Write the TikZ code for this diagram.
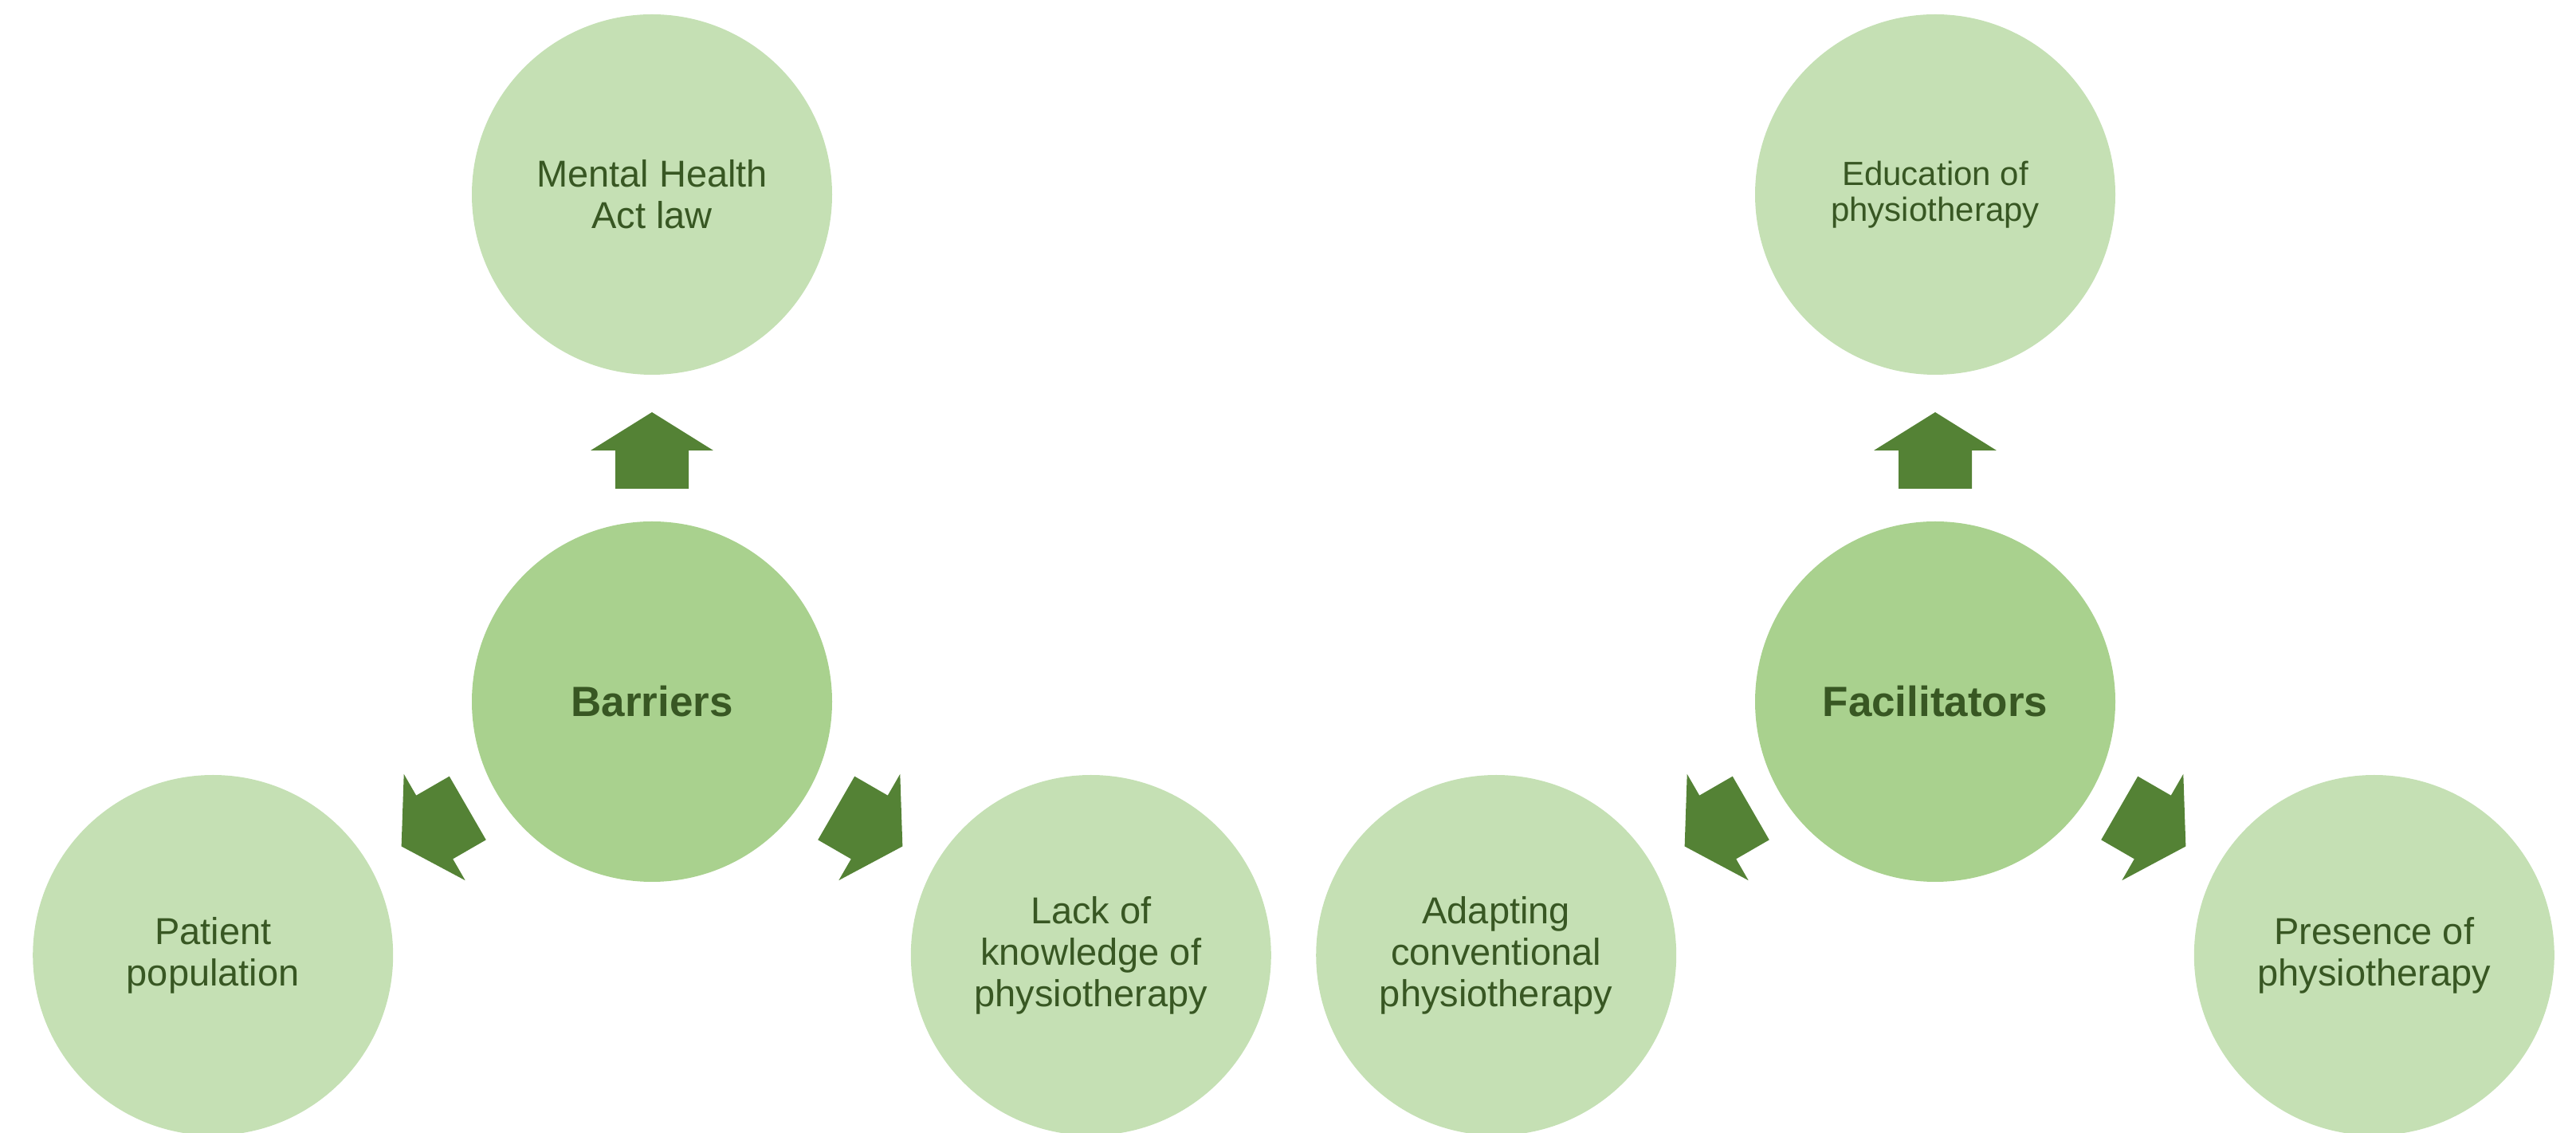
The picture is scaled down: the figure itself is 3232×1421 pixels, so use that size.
\documentclass[tikz,border=0pt]{standalone}
\usepackage{fontspec}
\setmainfont{Liberation Sans}
\usetikzlibrary{calc}
\definecolor{satfill}{HTML}{C5E0B4}
\definecolor{hubfill}{HTML}{A9D18E}
\definecolor{arrowfill}{HTML}{548235}
\definecolor{txt}{HTML}{385723}
\begin{document}
\begin{tikzpicture}[x=1pt,y=1pt,
  sat/.style={circle,fill=satfill,draw=none,minimum size=452pt,inner sep=0pt,
    text=txt,align=center,font=\fontsize{47}{52}\selectfont},
  smallsat/.style={sat,font=\fontsize{42}{45}\selectfont},
  hub/.style={circle,fill=hubfill,draw=none,minimum size=452pt,inner sep=0pt,
    text=txt,align=center,font=\fontsize{53}{60}\selectfont\bfseries},
  blockarrow/.style={fill=arrowfill,draw=none}]
\useasboundingbox (0,0) rectangle (3232,1421);
% hubs
\node[hub] (bar) at (818,541) {Barriers};
\node[hub] (fac) at (2428,541) {Facilitators};
% satellites of Barriers
\node[sat] (mha) at ($(bar)+(90:636)$) {Mental Health\\Act law};
\node[sat] (pat) at ($(bar)+(210:636)$) {Patient\\population};
\node[sat] (lack) at ($(bar)+(330:636)$) {Lack of\\knowledge of\\physiotherapy};
% satellites of Facilitators
\node[smallsat] (edu) at ($(fac)+(90:636)$) {Education of\\physiotherapy};
\node[sat] (adapt) at ($(fac)+(210:636)$) {Adapting\\conventional\\physiotherapy};
\node[sat] (pres) at ($(fac)+(330:636)$) {Presence of\\physiotherapy};
% block arrows
\foreach \hubname in {bar,fac}{
  \foreach \ang in {0,120,240}{
    \begin{scope}[shift={(\hubname.center)},rotate=\ang]
      \fill[blockarrow] (0,363) -- (77,315) -- (46,315) -- (46,267)
        -- (-46,267) -- (-46,315) -- (-77,315) -- cycle;
    \end{scope}
  }
}
\end{tikzpicture}
\end{document}
